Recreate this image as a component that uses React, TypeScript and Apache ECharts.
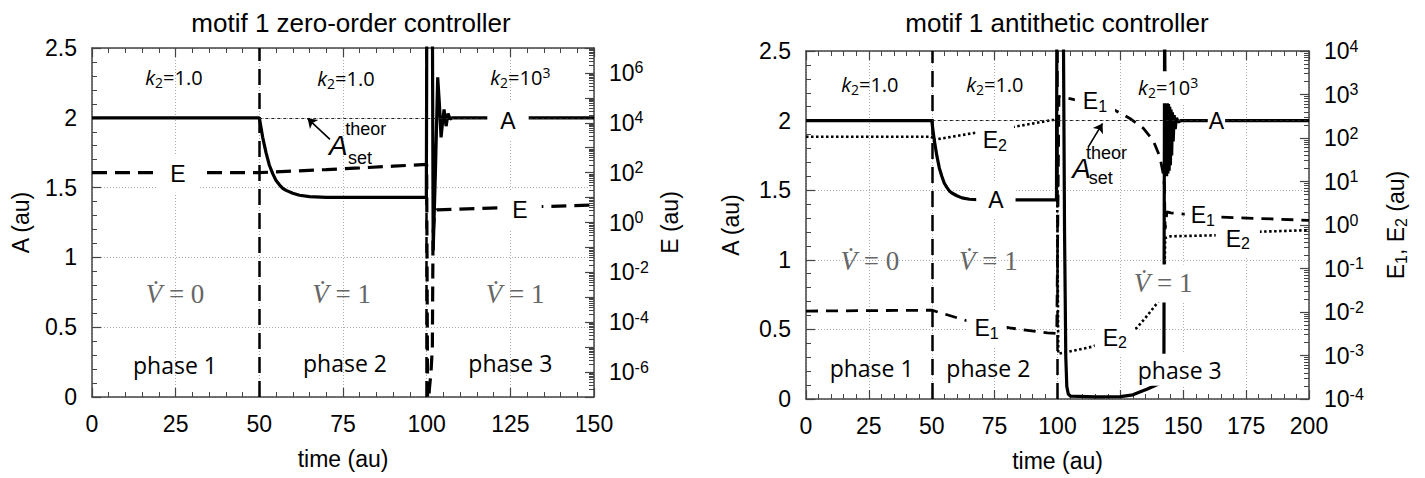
import React, { useEffect, useRef } from 'react';
import * as echarts from 'echarts';

// ---------------- Left panel: motif 1 zero-order controller ----------------
const zoTimeA = [0, 50, 51, 52, 53, 54, 55, 56, 57, 58, 60, 62, 65, 70, 99.9, 100.05, 101.7, 101.95, 102.6, 103.3, 103.8, 104.3, 104.8, 105.2, 105.8, 106.4, 107.0, 107.6, 150];
const zoA = [2, 2, 1.86, 1.75, 1.66, 1.6, 1.55, 1.52, 1.495, 1.48, 1.46, 1.445, 1.435, 1.43, 1.43, 2.8, 2.8, 1.05, 1.6, 2.29, 2.1, 1.86, 1.98, 2.06, 1.94, 2.03, 1.99, 2.0, 2.0];
const zoTimeE = [0, 50, 60, 70, 80, 90, 100, 100.3, 100.8, 101.3, 101.7, 101.9, 102.3, 103, 115, 130, 150];
const zoE = [100, 100, 115, 133, 155, 182, 215, 1e-8, 2e-7, 1e-6, 1e-5, 0.3, 2.2, 3.2, 3.6, 4.2, 5.0];

// ---------------- Right panel: motif 1 antithetic controller ----------------
const atTimeA = [0, 50, 51, 52, 53, 54, 55, 56, 57, 58, 60, 62, 65, 70, 99.6, 99.75, 102.3, 102.8, 103.3, 103.7, 104.3, 105.2, 115, 125, 130, 132.7, 135.5, 138, 140, 141.3, 142.3, 142.6, 142.9, 143.15, 143.4, 143.65, 143.9, 144.15, 144.4, 144.65, 144.9, 145.15, 145.4, 145.7, 146.0, 146.4, 146.8, 147.3, 148, 149, 200];
const atA = [2, 2, 1.86, 1.75, 1.66, 1.6, 1.55, 1.52, 1.495, 1.48, 1.46, 1.445, 1.435, 1.43, 1.43, 2.8, 2.8, 1.2, 0.3, 0.09, 0.035, 0.02, 0.015, 0.017, 0.03, 0.05, 0.07, 0.09, 0.105, 0.12, 0.16, 2.8, 1.6, 2.15, 1.6, 2.13, 1.62, 2.12, 1.64, 2.1, 1.68, 2.08, 1.75, 2.06, 1.85, 2.04, 1.94, 2.02, 1.99, 2.0, 2.0];
const atTimeE1 = [0, 50, 64, 81, 96, 99.7, 100.6, 110, 118, 122.8, 128.8, 134, 138, 140.7, 142, 142.5, 142.8, 143.5, 145, 165, 200];
const atE1 = [0.0105, 0.011, 0.0063, 0.0043, 0.0033, 0.0032, 900, 700, 520, 436, 282, 170, 89, 37, 15.5, 8, 0.8, 2.0, 1.9, 1.52, 1.28];
const atTimeE2 = [0, 50, 50.3, 66.4, 83, 98, 99.7, 100.3, 114, 131.5, 135.5, 140, 142.5, 142.8, 145, 163, 180, 200];
const atE2 = [107, 107, 90, 129, 182, 259, 259, 0.0011, 0.0016, 0.0043, 0.008, 0.017, 0.035, 0.5, 0.55, 0.58, 0.7, 0.76];

// ---------------- annotation texts (placed in time / A coordinates) ----------------
const K1 = '{ki|k}{ks|2}{kn|=1.0}';
const K3 = '{ki|k}{ks|2}{kn|=10}{kp|3}';
const V0 = '{vi|V\u0307}{vn| = 0}';
const V1 = '{vi|V\u0307}{vn| = 1}';
const E1 = '{mn|E}{sb|1}';
const E2 = '{mn|E}{sb|2}';

type Note = { text: string; t: number; a: number; pad?: number[] };

const zoNotes: Note[] = [
  { text: K1, t: 24.5, a: 2.29 },
  { text: K1, t: 75.9, a: 2.28 },
  { text: K3, t: 128, a: 2.29 },
  { text: '{mn|E}', t: 25.7, a: 1.6, pad: [6, 14] },
  { text: '{mn|E}', t: 127.9, a: 1.34, pad: [6, 14] },
  { text: '{mn|A}', t: 124.3, a: 1.98, pad: [6, 13] },
  { text: '{ai|A}', t: 73.6, a: 1.805 },
  { text: '{sm|theor}', t: 81.8, a: 1.918 },
  { text: '{sm|set}', t: 80.1, a: 1.714 },
  { text: V0, t: 24.8, a: 0.74 },
  { text: V1, t: 74.6, a: 0.74 },
  { text: V1, t: 126.4, a: 0.74 },
  { text: '{ph|phase 1}', t: 24.8, a: 0.23 },
  { text: '{ph|phase 2}', t: 75.6, a: 0.24 },
  { text: '{ph|phase 3}', t: 125, a: 0.24 },
];

const atNotes: Note[] = [
  { text: K1, t: 25.4, a: 2.26 },
  { text: K1, t: 75.1, a: 2.26 },
  { text: K3, t: 144, a: 2.24, pad: [4, 2] },
  { text: '{mn|A}', t: 75.5, a: 1.43, pad: [6, 12] },
  { text: '{mn|A}', t: 163.2, a: 2.0, pad: [4, 1] },
  { text: E2, t: 75.1, a: 1.86, pad: [5, 7] },
  { text: E1, t: 71.8, a: 0.51, pad: [5, 8] },
  { text: E1, t: 114.9, a: 2.14, pad: [5, 8] },
  { text: E2, t: 122.8, a: 0.44, pad: [5, 8] },
  { text: E1, t: 157.8, a: 1.32, pad: [5, 6] },
  { text: E2, t: 171.7, a: 1.15, pad: [5, 10] },
  { text: '{ai|A}', t: 109.6, a: 1.656 },
  { text: '{sm|theor}', t: 119.5, a: 1.765 },
  { text: '{sm|set}', t: 117.2, a: 1.586 },
  { text: V0, t: 25.4, a: 0.99 },
  { text: V1, t: 72.5, a: 0.99 },
  { text: V1, t: 142, a: 0.83, pad: [4, 2] },
  { text: '{ph|phase 1}', t: 26.1, a: 0.22 },
  { text: '{ph|phase 2}', t: 72.5, a: 0.22 },
  { text: '{ph|phase 3}', t: 148.6, a: 0.21, pad: [3, 2] },
];

// arrows pointing at the A_set^theor line: [tail, head]
const zoArrow = [[71.1, 1.846], [64.4, 1.996]];
const atArrow = [[112.2, 1.81], [117.9, 1.98]];

const FONT = "'Liberation Sans', Arial, Helvetica, sans-serif";
const SERIF = "'Liberation Serif', 'DejaVu Serif', serif";
const PHASE_FONT = "'Open Sans', 'Liberation Sans', sans-serif";
const AX = '#444';
const TICK_FS = 23;

const RICH: any = {
  mn: { fontSize: 23, fontFamily: FONT, color: '#000', lineHeight: 26 },
  sb: { fontSize: 16, fontFamily: FONT, color: '#000', verticalAlign: 'bottom', lineHeight: 13 },
  ki: { fontSize: 20, fontFamily: PHASE_FONT, fontStyle: 'italic', color: '#000', lineHeight: 24 },
  ks: { fontSize: 14, fontFamily: PHASE_FONT, color: '#000', verticalAlign: 'bottom', lineHeight: 11 },
  kn: { fontSize: 20, fontFamily: PHASE_FONT, color: '#000', lineHeight: 24 },
  kp: { fontSize: 14, fontFamily: PHASE_FONT, color: '#000', verticalAlign: 'top', lineHeight: 11 },
  vi: { fontSize: 27, fontFamily: SERIF, fontStyle: 'italic', color: '#666', lineHeight: 30 },
  vn: { fontSize: 27, fontFamily: SERIF, color: '#666', lineHeight: 30 },
  ph: { fontSize: 23, fontFamily: PHASE_FONT, color: '#000', lineHeight: 26 },
  ai: { fontSize: 28, fontFamily: FONT, fontStyle: 'italic', color: '#000', lineHeight: 30 },
  sm: { fontSize: 18, fontFamily: FONT, color: '#000', lineHeight: 20 },
};

const AXIS_RICH: any = {
  ten: { fontSize: TICK_FS, fontFamily: FONT, color: '#000', lineHeight: 26 },
  ex: { fontSize: 16, fontFamily: FONT, color: '#000', verticalAlign: 'top', lineHeight: 14 },
  mn: { fontSize: TICK_FS, fontFamily: FONT, color: '#000', lineHeight: 26 },
  sb: { fontSize: 16, fontFamily: FONT, color: '#000', verticalAlign: 'bottom', lineHeight: 13 },
};

const pair = (ts: number[], vs: number[], f: (v: number) => number = (v) => v) => ts.map((t, i) => [t, f(vs[i])]);
const lg = (v: number) => Math.log10(v);

function minorLogTicks(lo: number, hi: number) {
  const out: number[] = [];
  for (let n = lo; n < hi; n++) for (let k = 2; k <= 9; k++) out.push(n + Math.log10(k));
  return out;
}

const tickLine = { color: AX, width: 1.2 };

function xAxes(grid: number, max: number) {
  const common: any = {
    type: 'value', gridIndex: grid, min: 0, max, interval: 25,
    axisLine: { show: true, onZero: false, lineStyle: { color: AX, width: 1.5 } },
    axisTick: { show: true, inside: true, length: 9, lineStyle: tickLine },
    minorTick: { show: true, splitNumber: 5, length: 5, lineStyle: { color: AX, width: 1 } },
  };
  return [
    {
      ...common, position: 'bottom', name: 'time (au)', nameLocation: 'middle', nameGap: 50,
      nameTextStyle: { fontSize: TICK_FS, fontFamily: FONT, color: '#000' },
      axisLabel: { margin: 15, fontSize: TICK_FS, fontFamily: FONT, color: '#000' },
      splitLine: { show: true, lineStyle: { color: '#aaa', type: [1, 2], width: 1 } },
    },
    { ...common, position: 'top', axisLabel: { show: false }, splitLine: { show: false } },
  ];
}

function yAxes(grid: number, lo: number, hi: number, evenOnly: boolean, eName: string, aGap: number, eGap: number) {
  return [
    {
      type: 'value', gridIndex: grid, position: 'left', min: 0, max: 2.5, interval: 0.5,
      name: 'A (au)', nameLocation: 'middle', nameGap: aGap,
      nameTextStyle: { fontSize: TICK_FS, fontFamily: FONT, color: '#000' },
      axisLine: { show: true, onZero: false, lineStyle: { color: AX, width: 1.5 } },
      axisTick: { show: true, inside: true, length: 9, lineStyle: tickLine },
      minorTick: { show: true, splitNumber: 5, length: 5, lineStyle: { color: AX, width: 1 } },
      axisLabel: { margin: 15, fontSize: TICK_FS, fontFamily: FONT, color: '#000' },
      splitLine: { show: true, lineStyle: { color: '#aaa', type: [1, 2], width: 1 } },
    },
    {
      type: 'value', gridIndex: grid, position: 'right', min: lo, max: hi, interval: 1,
      name: eName, nameLocation: 'middle', nameGap: eGap,
      nameTextStyle: { fontSize: TICK_FS, fontFamily: FONT, color: '#000', rich: AXIS_RICH },
      axisLine: { show: true, onZero: false, lineStyle: { color: AX, width: 1.5 } },
      axisTick: { show: true, inside: true, length: 9, lineStyle: tickLine },
      axisLabel: {
        margin: 15, rich: AXIS_RICH,
        formatter: (v: number) => {
          const n = Math.round(v);
          if (Math.abs(v - n) > 1e-6) return '';
          if (evenOnly && (n % 2 !== 0)) return '';
          if (evenOnly && (n === lo || n === hi)) return '';
          return '{ten|10}{ex|' + n + '}';
        },
      },
      splitLine: { show: false },
    },
    {
      type: 'value', gridIndex: grid, position: 'right', min: lo, max: hi, interval: 1,
      axisLine: { show: false, onZero: false },
      axisTick: { show: true, inside: true, length: 5, lineStyle: { color: AX, width: 1 }, customValues: minorLogTicks(lo, hi) },
      axisLabel: { show: false },
      splitLine: { show: false },
    },
  ];
}

function noteSeries(notes: Note[], xi: number, yi: number) {
  return {
    type: 'scatter', xAxisIndex: xi, yAxisIndex: yi, z: 10, silent: true, symbolSize: 0,
    itemStyle: { opacity: 1, color: '#000' },
    label: { show: true, position: 'inside', rich: RICH, color: '#000', opacity: 1 },
    emphasis: { disabled: true },
    data: notes.map((n) => ({
      value: [n.t, n.a],
      itemStyle: { opacity: 1 },
      label: {
        formatter: () => n.text,
        backgroundColor: n.pad ? '#ffffff' : 'transparent',
        padding: n.pad ? n.pad : 0,
        opacity: 1,
      },
    })),
  };
}

function guideSeries(xi: number, yi: number, tEnd: number, arrow: number[][]) {
  const phase = { color: '#000', width: 2.5, type: [16, 8] };
  return {
    type: 'line', xAxisIndex: xi, yAxisIndex: yi, z: 1, data: [], silent: true,
    markLine: {
      silent: true, symbol: 'none', label: { show: false }, animation: false,
      data: [
        { xAxis: 50, lineStyle: phase },
        { xAxis: 100, lineStyle: phase },
        [{ coord: [50, 2], lineStyle: { color: '#222', width: 1, type: [3, 3] } }, { coord: [tEnd, 2] }],
        [
          { coord: arrow[0], symbol: 'none', lineStyle: { color: '#000', width: 1.6, type: 'solid' } },
          { coord: arrow[1], symbol: 'arrow', symbolSize: 9 },
        ],
      ],
    },
  };
}

function buildOption(): any {
  const lineBase = { showSymbol: false, symbol: 'none', silent: true, z: 3 };
  const titleStyle = { fontSize: 26, fontFamily: FONT, fill: '#000', textAlign: 'center', textVerticalAlign: 'middle' };
  return {
    animation: false,
    backgroundColor: '#fff',
    textStyle: { fontFamily: FONT },
    grid: [
      { left: 92, top: 48, width: 502, height: 349 },
      { left: 806, top: 51, width: 503, height: 348 },
    ],
    xAxis: [...xAxes(0, 150), ...xAxes(1, 200)],
    yAxis: [
      ...yAxes(0, -7, 7, true, 'E (au)', 60, 64),
      ...yAxes(1, -4, 4, false, '{mn|E}{sb|1}{mn|, E}{sb|2}{mn| (au)}', 64, 74),
    ],
    graphic: [
      { type: 'text', x: 351, y: 23, style: { ...titleStyle, text: 'motif 1 zero-order controller' } },
      { type: 'text', x: 1057, y: 23, style: { ...titleStyle, text: 'motif 1 antithetic controller' } },
    ],
    series: [
      guideSeries(0, 0, 150, zoArrow),
      { ...lineBase, type: 'line', xAxisIndex: 0, yAxisIndex: 0, data: pair(zoTimeA, zoA), lineStyle: { color: '#000', width: 3.2 } },
      { ...lineBase, type: 'line', xAxisIndex: 0, yAxisIndex: 1, data: pair(zoTimeE, zoE, lg), lineStyle: { color: '#000', width: 3.2, type: [15, 8], cap: 'butt' } },
      noteSeries(zoNotes, 0, 0),

      guideSeries(2, 3, 200, atArrow),
      { ...lineBase, type: 'line', xAxisIndex: 2, yAxisIndex: 3, data: pair(atTimeA, atA), lineStyle: { color: '#000', width: 3.2 } },
      { ...lineBase, type: 'line', xAxisIndex: 2, yAxisIndex: 4, data: pair(atTimeE1, atE1, lg), lineStyle: { color: '#000', width: 2.8, type: [12, 8], cap: 'butt' } },
      { ...lineBase, type: 'line', xAxisIndex: 2, yAxisIndex: 4, data: pair(atTimeE2, atE2, lg), lineStyle: { color: '#000', width: 2.6, type: [2.5, 2.5], cap: 'butt' } },
      noteSeries(atNotes, 2, 3),
    ],
  };
}

export default function App() {
  const ref = useRef<HTMLDivElement>(null);
  useEffect(() => {
    if (!ref.current) return;
    document.body.style.margin = '0';
    const chart = echarts.init(ref.current, undefined, { renderer: 'svg' });
    chart.setOption(buildOption());
    return () => chart.dispose();
  }, []);
  return <div ref={ref} style={{ position: 'absolute', left: 0, top: 0, width: 1425, height: 478, background: '#fff' }} />;
}
